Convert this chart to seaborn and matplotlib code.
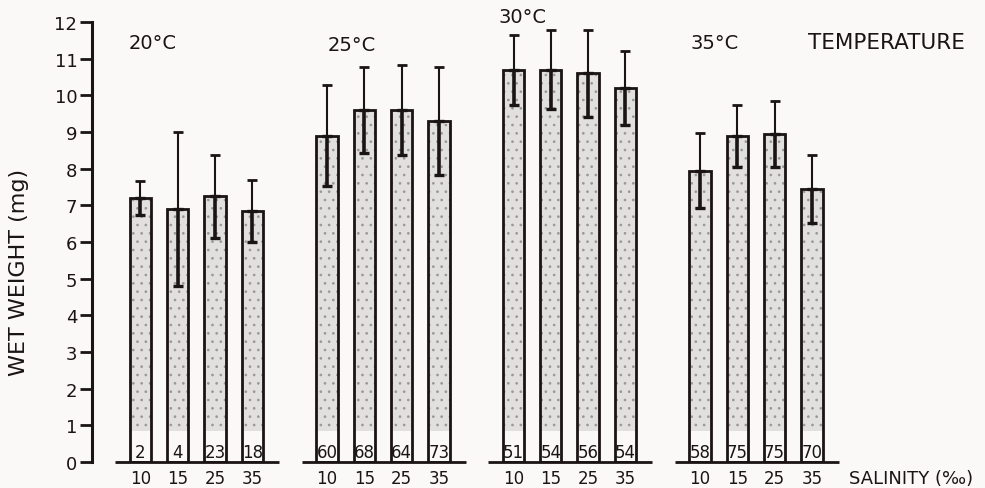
import matplotlib
matplotlib.use("Agg")
import matplotlib.pyplot as plt
from matplotlib.patches import Rectangle
import numpy as np
import pandas as pd
import seaborn as sns

# Wet weight (mg) by temperature and salinity, mean ± SD, with sample sizes
temperatures = ["20°C", "25°C", "30°C", "35°C"]
salinities = ["10", "15", "25", "35"]

mean_20 = [7.2, 6.9, 7.25, 6.85]
sd_20 = [0.47, 2.1, 1.13, 0.84]
n_20 = [2, 4, 23, 18]

mean_25 = [8.9, 9.6, 9.6, 9.3]
sd_25 = [1.38, 1.17, 1.24, 1.47]
n_25 = [60, 68, 64, 73]

mean_30 = [10.7, 10.7, 10.6, 10.2]
sd_30 = [0.95, 1.08, 1.18, 1.0]
n_30 = [51, 54, 56, 54]

mean_35 = [7.95, 8.9, 8.95, 7.45]
sd_35 = [1.03, 0.85, 0.9, 0.93]
n_35 = [58, 75, 75, 70]

means = [mean_20, mean_25, mean_30, mean_35]
sds = [sd_20, sd_25, sd_30, sd_35]
ns = [n_20, n_25, n_30, n_35]

GROUP_STEP = 5
rows = []
for g, t in enumerate(temperatures):
    for i, s in enumerate(salinities):
        rows.append({"temperature": t, "salinity": s,
                     "pos": g * GROUP_STEP + i,
                     "weight": means[g][i], "sd": sds[g][i], "n": ns[g][i]})
df = pd.DataFrame(rows)

sns.set_theme(style="white")
plt.rcParams["font.family"] = ["DejaVu Sans"]
plt.rcParams["hatch.linewidth"] = 0.7

INK = "#1a1414"
BG = "#fbf9f7"
fig = plt.figure(figsize=(9.85, 4.89), dpi=100, facecolor=BG)
ax = fig.add_axes([92 / 985, 26 / 489, 1 - 92 / 985, 440 / 489])
ax.set_facecolor(BG)

# stippled bars
sns.barplot(data=df, x="pos", y="weight", native_scale=True, width=0.57,
            color="#e2e0de", saturation=1, errorbar=None, ax=ax,
            hatch="..", edgecolor="#9a9896", linewidth=0, zorder=2)

BOX_H = 0.85
bars = list(ax.patches)
for p, n in zip(bars, df["n"]):
    x0, w, h = p.get_x(), p.get_width(), p.get_height()
    # white label box at the foot of each bar
    ax.add_patch(Rectangle((x0, 0), w, BOX_H, facecolor=BG, edgecolor="none", zorder=3))
    # bar outline
    ax.add_patch(Rectangle((x0, 0), w, h, fill=False, edgecolor=INK,
                           linewidth=2.0, zorder=4))
    ax.text(x0 + w / 2, 0.27, str(n), ha="center", va="center",
            fontsize=12, color=INK, zorder=5)

# error bars: thin above the mean, heavier inside the bar
zeros = np.zeros(len(df))
ax.errorbar(df["pos"], df["weight"], yerr=[zeros, df["sd"]], fmt="none",
            ecolor=INK, elinewidth=1.5, capsize=3.8, capthick=2, zorder=6)
ax.errorbar(df["pos"], df["weight"], yerr=[df["sd"], zeros], fmt="none",
            ecolor=INK, elinewidth=2.6, capsize=3.8, capthick=2.4, zorder=6)

# baseline under each temperature group
for g in range(len(temperatures)):
    ax.hlines(0, g * GROUP_STEP - 0.68, g * GROUP_STEP + 3.72, color=INK,
              linewidth=2, zorder=7, clip_on=False)

ax.set_xlim(-1.3, 22.64)
ax.set_ylim(0, 12)
ax.set_yticks(range(0, 13))
ax.set_yticklabels([str(v) for v in range(0, 13)], fontsize=13, color=INK)
ax.set_xticks(df["pos"])
ax.set_xticklabels(df["salinity"], fontsize=12, color=INK)
ax.tick_params(axis="x", length=0, pad=5)
ax.tick_params(axis="y", left=True, length=8.6, width=2, pad=2, color=INK)
ax.set_xlabel("")
ax.set_ylabel("")

for side in ["top", "right", "bottom"]:
    ax.spines[side].set_visible(False)
ax.spines["left"].set_linewidth(2.2)
ax.spines["left"].set_color(INK)

# temperature headings
heading_x = [0.33, 5.67, 10.23, 15.4]
heading_y = [11.45, 11.4, 12.15, 11.45]
for t, hx, hy in zip(temperatures, heading_x, heading_y):
    ax.text(hx, hy, t, ha="center", va="center", fontsize=14,
            color=INK, clip_on=False)
ax.text(20.0, 11.45, "TEMPERATURE", ha="center", va="center", fontsize=15.5,
        color=INK)
ax.text(20.66, -0.44, "SALINITY (‰)", ha="center", va="center", fontsize=13,
        color=INK, clip_on=False)

fig.text(19 / 985, 1 - 272 / 489, "WET WEIGHT (mg)", rotation=90,
         ha="center", va="center", fontsize=16, color=INK)

fig.savefig("out.png", dpi=100, facecolor=BG)
